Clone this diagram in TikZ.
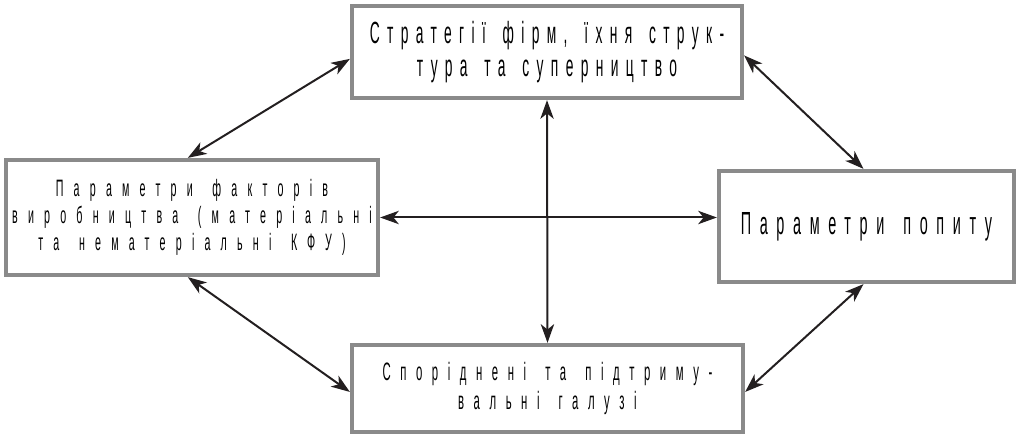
\documentclass[tikz,border=0pt]{standalone}
\usepackage{fontspec}
\newfontfamily\blockfont{Liberation Sans}[FakeStretch=0.45,WordSpace=1.5]
\newcommand{\blocktext}[3]{\blockfont\fontsize{#1}{#2}\selectfont\addfontfeature{LetterSpace=#3}}
\usepackage{tikz}
\definecolor{blockgray}{RGB}{138,138,138}
\definecolor{arrowblack}{RGB}{35,31,32}
\tikzstyle{block} = [draw=blockgray, line width=3.2pt, fill=white,
    align=center, inner sep=0pt]
\tikzstyle{link} = [<->, line width=1.5pt, draw=arrowblack]
\usetikzlibrary{arrows.meta}
\tikzset{>={Stealth[length=14pt,width=10pt,inset=4pt]}}

\begin{document}
\begin{tikzpicture}
\begin{scope}[x=0.75pt,y=-0.75pt]
    \useasboundingbox (0,0) rectangle (1023,438);
    %nodes
    \node[block, minimum width=292.5pt, minimum height=69pt,
        font=\blocktext{23}{25}{24}] (strat) at (547,52)
        {Стратегії фірм, їхня струк-\\тура та суперництво};
    \node[block, minimum width=279pt, minimum height=86.25pt,
        font=\blocktext{17.8}{20.3}{43}] (factor) at (192,217.5)
        {Параметри факторів\\виробництва (матеріальні\\та нематеріальні КФУ)};
    \node[block, minimum width=221.25pt, minimum height=83.25pt,
        font=\blocktext{24}{26}{27}] (demand) at (866.5,226.5)
        {Параметри попиту};
    \node[block, minimum width=293.25pt, minimum height=65.25pt,
        font=\blocktext{18.9}{21.8}{38}] (related) at (547.5,388.5)
        {Споріднені та підтриму-\\вальні галузі};
    %diagonal arrows
    \draw[link] (factor.94) -- (strat.182);
    \draw[link] (strat.-1.5) -- (demand.93);
    \draw[link] (factor.266) -- (related.181);
    \draw[link] (related.359) -- (demand.267);
    %cross
    \draw[link] (factor.east) -- (factor.east -| demand.west);
    \draw[link] (strat.south) -- (related.north);
\end{scope}
\end{tikzpicture}
\end{document}
